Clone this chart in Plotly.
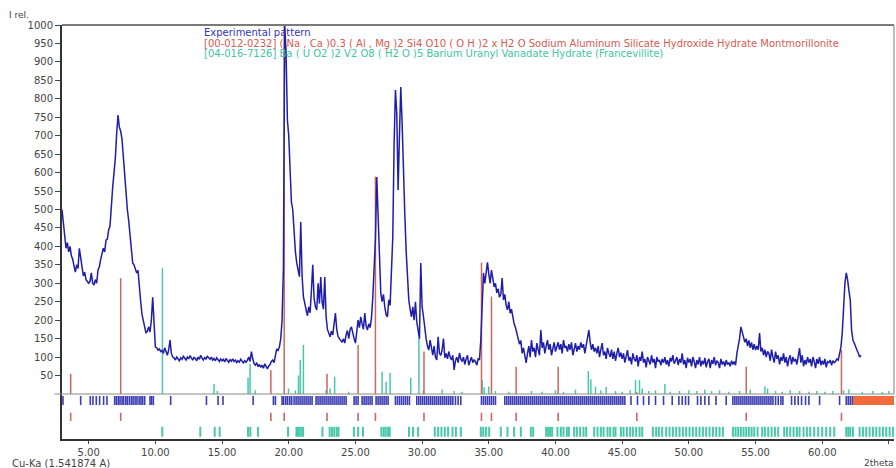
import plotly.graph_objects as go

# ---------------- data ----------------
TWO_THETA_START = 3.0
TWO_THETA_STEP = 0.1
intensity = [
    500, 465, 420, 395, 410, 385, 400, 375, 365, 345,   # 3
    330, 350, 340, 395, 365, 340, 320, 330, 310, 305,   # 4
    300, 305, 328, 300, 295, 310, 300, 336, 345, 365,   # 5
    382, 395, 385, 417, 420, 445, 455, 526, 560, 600,   # 6
    640, 707, 756, 723, 712, 690, 640, 590, 545, 500,   # 7
    470, 430, 385, 355, 350, 340, 328, 335, 280, 250,   # 8
    215, 195, 180, 165, 170, 182, 168, 200, 262, 170,   # 9
    127, 125, 119, 122, 115, 118, 110, 125, 112, 105,   # 10
    120, 146, 110, 100, 98, 92, 100, 95, 90, 98,        # 11
    94, 102, 96, 92, 100, 95, 104, 98, 92, 99,          # 12
    96, 90, 100, 94, 105, 97, 92, 99, 95, 102,          # 13
    97, 94, 100, 92, 96, 90, 98, 93, 88, 95,            # 14
    90, 94, 87, 96, 91, 86, 93, 89, 95, 88,             # 15
    92, 85, 90, 86, 94, 88, 84, 90, 86, 92,             # 16
    100, 88, 115, 96, 82, 78, 85, 74, 80, 72,           # 17
    78, 70, 82, 75, 68, 76, 80, 88, 92, 85,             # 18
    110, 122, 118, 128, 150, 200, 340, 1000, 925, 742,  # 19
    700, 600, 520, 500, 430, 385, 355, 330, 318, 466,   # 20
    320, 263, 245, 225, 212, 236, 220, 280, 350, 260,   # 21
    236, 228, 300, 245, 317, 250, 230, 317, 210, 175,   # 22
    165, 155, 170, 160, 190, 219, 175, 155, 150, 145,   # 23
    140, 150, 138, 160, 172, 150, 175, 182, 160, 150,   # 24
    138, 170, 200, 180, 209, 190, 175, 219, 185, 173,   # 25
    190, 180, 205, 260, 330, 420, 588, 480, 330, 274,   # 26
    250, 270, 236, 215, 209, 255, 240, 330, 425, 680,   # 27
    824, 760, 553, 700, 832, 734, 572, 490, 390, 300,   # 28
    255, 230, 209, 236, 200, 250, 195, 173, 150, 355,   # 29
    236, 210, 173, 150, 130, 119, 146, 120, 105, 130,   # 30
    100, 92, 155, 110, 105, 119, 150, 98, 110, 95,      # 31
    115, 100, 92, 105, 65, 90, 100, 85, 111, 95,        # 32
    88, 100, 80, 95, 105, 78, 90, 100, 85, 92,          # 33
    88, 78, 95, 92, 146, 236, 328, 300, 336, 357,       # 34
    325, 300, 336, 309, 290, 300, 274, 285, 262, 270,   # 35
    314, 255, 270, 240, 228, 250, 219, 230, 205, 190,   # 36
    180, 165, 150, 135, 145, 110, 125, 100, 84, 110,    # 37
    130, 100, 146, 115, 125, 100, 138, 120, 105, 173,   # 38
    125, 140, 110, 130, 146, 120, 135, 105, 125, 140,   # 39
    115, 130, 140, 120, 135, 110, 146, 125, 130, 115,   # 40
    135, 120, 140, 105, 125, 138, 115, 130, 120, 140,   # 41
    125, 135, 110, 130, 150, 173, 140, 120, 135, 115,   # 42
    125, 110, 130, 100, 120, 138, 105, 115, 95, 125,    # 43
    110, 100, 120, 95, 115, 90, 110, 125, 100, 112,     # 44
    95, 110, 85, 105, 119, 90, 100, 80, 110, 95,        # 45
    88, 105, 75, 100, 90, 115, 85, 95, 72, 100,         # 46
    90, 80, 105, 85, 95, 70, 100, 88, 92, 78,           # 47
    95, 85, 100, 80, 92, 75, 98, 88, 105, 82,           # 48
    90, 100, 78, 95, 85, 110, 80, 92, 70, 98,           # 49
    85, 95, 75, 100, 88, 70, 92, 80, 100, 75,           # 50
    90, 80, 98, 72, 88, 95, 70, 92, 82, 100,            # 51
    78, 90, 85, 70, 95, 80, 88, 75, 92, 80,             # 52
    85, 75, 90, 80, 88, 78, 110, 127, 150, 182,         # 53
    170, 155, 140, 150, 130, 145, 125, 140, 120, 135,   # 54
    119, 130, 120, 165, 115, 125, 105, 120, 100, 115,   # 55
    110, 90, 120, 100, 85, 115, 95, 105, 80, 100,       # 56
    90, 110, 85, 100, 75, 95, 105, 80, 100, 88,         # 57
    95, 80, 100, 124, 85, 105, 75, 92, 80, 100,         # 58
    85, 95, 75, 100, 88, 70, 95, 82, 100, 78,           # 59
    90, 80, 95, 72, 88, 85, 92, 78, 90, 85,             # 60
    88, 95, 92, 110, 127, 165, 255, 300, 328, 310,      # 61
    280, 255, 173, 146, 138, 125, 119, 111, 100, 105,   # 62
]

# Montmorillonite reference pattern [00-012-0232]
mont_pos = [3.65, 7.4, 18.66, 19.66, 22.87, 25.2, 26.5, 30.14, 34.45, 35.2,
            37.05, 40.2, 46.1, 54.3, 61.44]
mont_int = [55, 314, 65, 1000, 55, 133, 589, 115, 356, 264,
            74, 74, 5, 74, 119]

# Francevillite reference pattern [04-016-7126]
fran_pos = [10.53, 14.4, 14.65, 16.95, 17.1, 17.5, 19.98, 20.5, 20.73, 20.86,
            21.1, 22.8, 23.1, 23.44, 24.5, 27.0, 27.3, 27.6, 29.15, 29.76,
            30.1, 31.5, 32.4, 33.0, 34.5, 34.65, 35.0, 35.5, 36.5, 38.2,
            39.0, 40.0, 40.6, 41.5, 42.46, 42.65, 43.0, 43.4, 43.8, 44.5,
            45.0, 45.6, 46.0, 46.3, 46.5, 47.0, 47.5, 48.2, 48.6, 49.3,
            50.0, 50.6, 51.2, 51.7, 52.3, 53.0, 53.8, 54.6, 55.7, 55.9,
            56.5, 57.0, 57.6, 58.3, 59.0, 59.6, 60.2, 60.8, 61.6, 62.0,
            63.0, 63.8, 64.5, 65.0]
fran_int = [341, 27, 8, 45, 82, 10, 15, 10, 50, 92,
            133, 10, 15, 47, 6, 60, 33, 57, 44, 152,
            10, 12, 8, 6, 38, 18, 20, 8, 6, 8,
            6, 10, 6, 12, 62, 40, 20, 10, 19, 8,
            6, 10, 38, 38, 15, 8, 10, 27, 6, 8,
            10, 8, 12, 8, 10, 6, 8, 12, 20, 15,
            8, 6, 10, 8, 6, 8, 6, 8, 10, 12,
            6, 8, 6, 8]

# Peak-search markers of the experimental pattern
peak_pos = [3.07, 4.4, 5.12, 5.32, 5.57, 5.82, 6.12, 6.37, 6.95, 7.08, 7.22, 7.35,
            7.5, 7.62, 7.78, 7.9, 8.05, 8.2, 8.33, 8.48, 8.62, 8.78, 8.92, 9.05, 9.2,
            9.6, 9.72, 9.85, 11.15, 13.83, 14.7, 15.07, 17.33,
            18.85, 19.0, 19.5, 19.62, 19.78, 19.92, 20.08, 20.22, 20.4, 20.55, 20.7,
            20.85, 21.0, 21.15, 21.3, 21.45, 21.6, 21.75, 22.05, 22.2, 22.35, 22.5,
            22.65, 22.8, 22.95, 23.1, 23.25, 23.4, 23.55, 23.7, 23.85, 24.0, 24.15,
            24.3, 24.9, 25.05, 25.2, 25.5, 25.65, 25.8, 25.95, 26.1, 26.25, 26.55,
            26.7, 26.85, 27.0, 27.15, 27.3, 27.45, 28.0, 28.15, 28.3, 28.45, 28.6,
            28.75, 28.9, 29.05, 29.6, 29.75, 29.9, 30.05, 30.2, 30.35, 30.5, 30.65,
            30.8, 30.95, 31.1, 31.25, 31.4, 31.55, 31.7, 31.85, 32.0, 32.15, 32.3,
            32.5, 32.7, 32.9,
            34.45, 34.6, 34.75, 34.9, 35.05, 35.2, 35.35, 35.5,
            36.2, 36.35, 36.5, 36.65, 36.8, 36.95, 37.1, 37.25, 37.4, 37.55, 37.7,
            37.85, 38.0, 38.15, 38.3, 38.45, 38.6, 38.75, 38.9, 39.05, 39.2, 39.35,
            39.5, 39.65, 39.8, 39.95, 40.1, 40.25, 40.4, 40.55, 40.7, 40.85, 41.0,
            41.15, 41.3, 41.45, 41.6, 41.75, 41.9, 42.05, 42.2, 42.35, 42.5, 42.65,
            42.8, 42.95, 43.1, 43.25, 43.4, 43.55, 43.7, 43.85, 44.0, 44.15, 44.3,
            44.45, 44.6, 44.75, 44.9, 45.05, 45.2,
            45.66, 46.15, 46.6, 47.0, 47.5, 48.1, 48.75, 49.25, 49.5, 49.75, 49.98,
            50.65, 50.9, 51.2, 51.5, 52.03, 52.8, 53.3, 53.45, 53.6, 53.75, 53.9,
            54.05, 54.2, 54.35, 54.5, 54.65, 54.8, 54.95, 55.1, 55.25, 55.4, 55.55,
            55.7, 55.85, 56.0, 56.15, 56.3, 56.5, 56.7, 56.9, 57.05, 57.7, 57.95,
            58.2, 58.45, 58.75, 59.0, 59.8, 61.3, 61.8, 61.95, 62.1, 62.25]

# Francevillite line positions marker row
fran_row_pos = [10.52, 13.37, 14.45, 14.82, 16.95, 17.12, 17.7, 19.95, 20.58, 20.7,
                20.8, 20.95, 21.08, 22.53, 23.07, 23.25, 23.42, 23.6, 23.73, 24.88,
                25.2, 25.57, 26.95, 27.12, 27.27, 27.45, 27.57, 29.02, 29.32, 29.7,
                30.95, 31.2, 31.45, 31.7, 31.95, 32.28, 32.53, 32.9, 34.4, 34.58,
                34.78, 35.03, 35.9, 36.4, 36.9, 37.4, 38.15, 38.33, 39.3, 39.45,
                39.6, 39.75, 40.15, 40.4, 40.6, 40.85, 41.0, 41.4, 41.6, 41.85,
                42.1, 42.3, 42.9, 43.15, 43.4, 43.6, 43.9, 44.1, 44.35, 44.5,
                44.9, 45.1, 45.35, 45.6, 45.8, 46.05, 46.3, 46.5, 47.3, 47.55,
                47.75, 48.0, 48.3, 48.55, 48.8, 49.05, 49.3, 49.55, 49.8, 50.05,
                50.3, 50.55, 50.8, 51.05, 51.3, 51.55, 51.8, 52.05, 52.3, 52.55,
                53.3, 53.5, 53.7, 53.9, 54.1, 54.3, 54.5, 54.7, 54.9, 55.15,
                55.5, 55.7, 55.95, 56.2, 56.45, 56.7, 57.15, 57.35, 57.6, 57.85,
                58.1, 58.3, 58.6, 58.85, 59.1, 59.4, 59.7, 60.0, 60.3, 60.6,
                60.9, 61.8, 61.95, 62.1, 62.3, 62.8, 63.05, 63.3, 63.55, 63.8,
                64.05, 64.3, 64.55, 64.8, 65.05, 65.3]

x_tick_vals = [5, 10, 15, 20, 25, 30, 35, 40, 45, 50, 55, 60, 65]
x_tick_text = ["5.00", "10.00", "15.00", "20.00", "25.00", "30.00", "35.00",
               "40.00", "45.00", "50.00", "55.00", "60.00", "65.00"]
y_tick_vals = [50, 100, 150, 200, 250, 300, 350, 400, 450, 500,
               550, 600, 650, 700, 750, 800, 850, 900, 950, 1000]

legend_texts = [
    "Experimental pattern",
    "[00-012-0232] ( Na , Ca )0.3 ( Al , Mg )2 Si4 O10 ( O H )2 x H2 O Sodium Aluminum Silicate Hydroxide Hydrate Montmorillonite",
    "[04-016-7126] Ba ( U O2 )2 V2 O8 ( H2 O )5 Barium Uranyl Vanadate Hydrate (Francevillite)",
]

# ---------------- styling ----------------
BLUE = "#1e1eaa"
RED = "#c8685e"
TEAL = "#48c8aa"
ROW_BLUE = "#3c3cb4"
ORANGE = "#f26b3c"
FONT = "DejaVu Sans"
X_MIN, X_MAX = 3.0, 65.38
Y_MIN, Y_MAX = -122, 1000


def sticks(pos, bottoms, tops):
    xs, ys = [], []
    for p, b, t in zip(pos, bottoms, tops):
        xs += [p, p, None]
        ys += [b, t, None]
    return xs, ys


two_theta = [round(TWO_THETA_START + i * TWO_THETA_STEP, 3) for i in range(len(intensity))]

fig = go.Figure()

# reference stick patterns
fx, fy = sticks(fran_pos, [0] * len(fran_pos), fran_int)
fig.add_trace(go.Scatter(x=fx, y=fy, mode="lines", line=dict(color=TEAL, width=1.5),
                         hoverinfo="skip"))
mx, my = sticks(mont_pos, [0] * len(mont_pos), mont_int)
fig.add_trace(go.Scatter(x=mx, y=my, mode="lines", line=dict(color=RED, width=1.5),
                         hoverinfo="skip"))

# experimental pattern
fig.add_trace(go.Scatter(x=two_theta, y=intensity, mode="lines",
                         line=dict(color=BLUE, width=1.5)))

# marker rows below the zero line
bx, by = sticks(peak_pos, [-5.5] * len(peak_pos), [-30] * len(peak_pos))
fig.add_trace(go.Scatter(x=bx, y=by, mode="lines", line=dict(color=ROW_BLUE, width=1.6),
                         hoverinfo="skip"))
rx, ry = sticks(mont_pos, [-51] * len(mont_pos), [-73] * len(mont_pos))
fig.add_trace(go.Scatter(x=rx, y=ry, mode="lines", line=dict(color=RED, width=1.6),
                         hoverinfo="skip"))
tx, ty = sticks(fran_row_pos, [-89] * len(fran_row_pos), [-116] * len(fran_row_pos))
fig.add_trace(go.Scatter(x=tx, y=ty, mode="lines", line=dict(color=TEAL, width=2),
                         hoverinfo="skip"))

shapes = [
    # zero line (extends slightly left of the axis like the original)
    dict(type="line", xref="paper", yref="y", x0=-0.009, x1=1, y0=0, y1=0,
         line=dict(color="#8a8a8a", width=1.2)),
    # top frame
    dict(type="line", xref="paper", yref="paper", x0=0, x1=1, y0=1, y1=1,
         line=dict(color="#7a7a7a", width=2)),
    # right frame
    dict(type="line", xref="paper", yref="y", x0=1, x1=1, y0=0, y1=Y_MAX,
         line=dict(color="#7a7a7a", width=1)),
    # orange out-of-range bar
    dict(type="rect", xref="x", yref="y", x0=62.3, x1=X_MAX, y0=-30, y1=-5.5,
         fillcolor=ORANGE, line=dict(width=0)),
]

legend_colors = ["#3535b5", "#d85a52", "#3fc4a2"]
legend_y = [0.983, 0.9565, 0.932]
annotations = []
for txt, col, yy in zip(legend_texts, legend_colors, legend_y):
    annotations.append(dict(text=txt, xref="paper", yref="paper", x=0.168, y=yy,
                            xanchor="left", yanchor="middle", showarrow=False,
                            font=dict(family=FONT, size=10, color=col)))
annotations += [
    dict(text="I rel.", xref="paper", yref="paper", x=-0.066, y=1.024,
         xanchor="left", yanchor="middle", showarrow=False,
         font=dict(family=FONT, size=9, color="#444")),
    dict(text="Cu-Ka (1.541874 A)", xref="paper", yref="paper", x=-0.0625, y=-0.059,
         xanchor="left", yanchor="middle", showarrow=False,
         font=dict(family=FONT, size=10, color="#444")),
    dict(text="2theta", xref="paper", yref="paper", x=1.002, y=-0.059,
         xanchor="right", yanchor="middle", showarrow=False,
         font=dict(family=FONT, size=9, color="#444")),
]

fig.update_layout(
    width=896, height=468,
    margin=dict(l=62, r=2, t=25, b=29),
    paper_bgcolor="white", plot_bgcolor="white",
    showlegend=False,
    shapes=shapes,
    annotations=annotations,
    font=dict(family=FONT, size=10, color="#444"),
    xaxis=dict(range=[X_MIN, X_MAX], tickvals=x_tick_vals, ticktext=x_tick_text,
               ticks="outside", ticklen=3, tickwidth=1, tickcolor="#444",
               showline=True, linecolor="#333", linewidth=2, automargin=False,
               showgrid=False, zeroline=False, tickfont=dict(size=10)),
    yaxis=dict(range=[Y_MIN, Y_MAX], tickvals=y_tick_vals,
               ticks="outside", ticklen=5, tickwidth=1, tickcolor="#444",
               showline=True, linecolor="#333", linewidth=2, automargin=False,
               showgrid=False, zeroline=False, tickfont=dict(size=10)),
)

fig.write_html("out.html",
               config={"displayModeBar": False},
               post_script="document.body.style.margin='0';document.body.style.padding='0';")
